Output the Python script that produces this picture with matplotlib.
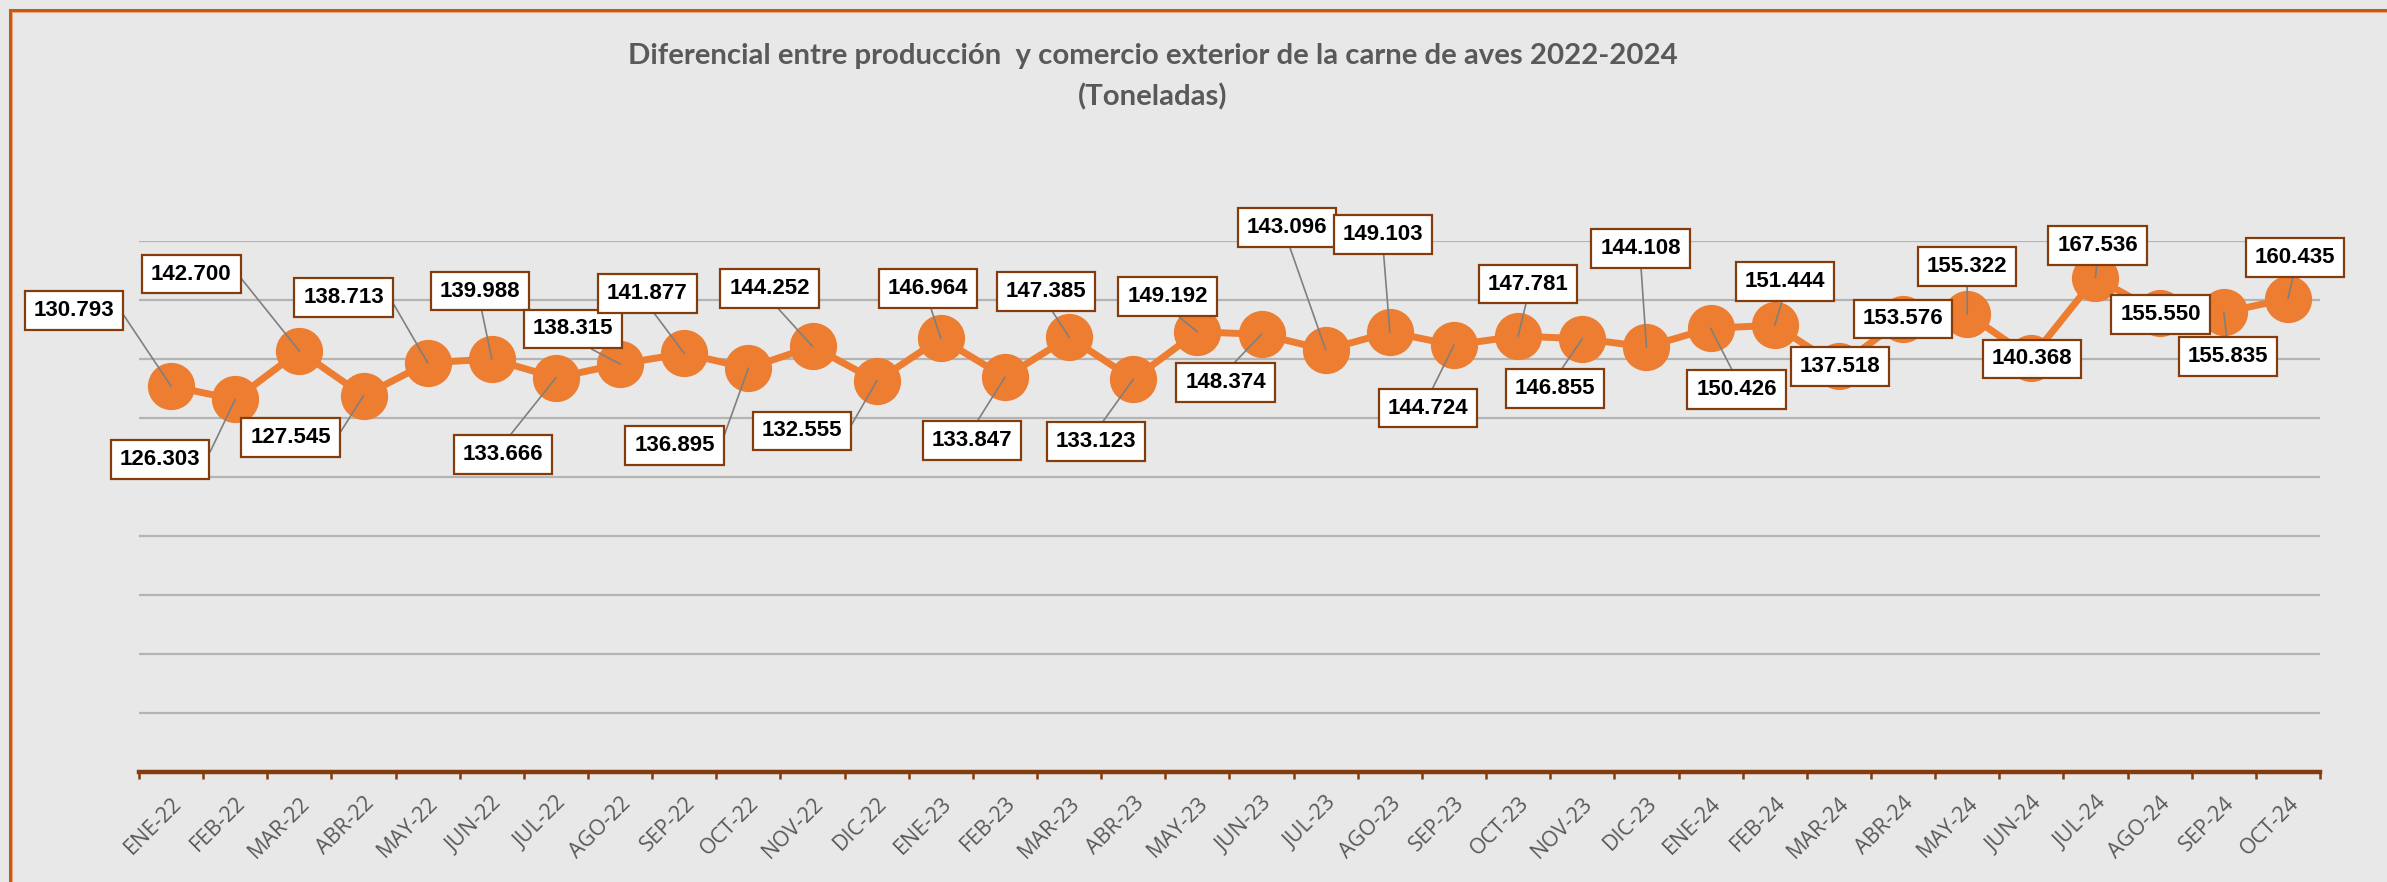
import matplotlib
matplotlib.use("Agg")
import numpy as np
import matplotlib.pyplot as plt
from matplotlib.lines import Line2D

# ----------------------------------------------------
# Data (toneladas, miles)
# ----------------------------------------------------
meses = ["ENE-22", "FEB-22", "MAR-22", "ABR-22", "MAY-22", "JUN-22", "JUL-22",
         "AGO-22", "SEP-22", "OCT-22", "NOV-22", "DIC-22",
         "ENE-23", "FEB-23", "MAR-23", "ABR-23", "MAY-23", "JUN-23", "JUL-23",
         "AGO-23", "SEP-23", "OCT-23", "NOV-23", "DIC-23",
         "ENE-24", "FEB-24", "MAR-24", "ABR-24", "MAY-24", "JUN-24", "JUL-24",
         "AGO-24", "SEP-24", "OCT-24"]

diferencial = [130.793, 126.303, 142.700, 127.545, 138.713, 139.988, 133.666,
               138.315, 141.877, 136.895, 144.252, 132.555,
               146.964, 133.847, 147.385, 133.123, 149.192, 148.374, 143.096,
               149.103, 144.724, 147.781, 146.855, 144.108,
               150.426, 151.444, 137.518, 153.576, 155.322, 140.368, 167.536,
               155.550, 155.835, 160.435]

titulo = "Diferencial entre producción  y comercio exterior de la carne de aves 2022-2024"
subtitulo = "(Toneladas)"

# label box offsets from each point, in pixels (dx, dy up)
label_offsets = [(-97, 76), (-75, -60), (-108, 77), (-73, -42), (-84, 65),
                 (-12, 68), (-53, -77), (-47, 35), (-37, 60), (-74, -77),
                 (-43, 58), (-75, -50), (-13, 50), (-33, -63), (-23, 46),
                 (-37, -62), (-30, 35), (-36, -48), (-39, 122), (-7, 98),
                 (-26, -63), (10, 52), (-27, -50), (-6, 98), (26, -61),
                 (10, 44), (1, 0), (0, 0), (0, 47), (1, -1), (2, 32),
                 (1, -1), (4, -44), (7, 41)]

BG = "#E8E8E8"
ORANGE = "#ED7D31"
BROWN = "#843C0C"
GRAY_TXT = "#595959"
TITLE_FONT = ["Lato", "DejaVu Sans"]

W, H = 2387, 882
fig = plt.figure(figsize=(W / 100, H / 100), dpi=100, facecolor=BG)
ax = fig.add_axes([139 / W, 1 - 772 / H, (2320 - 139) / W, (772 - 241) / H])
ax.set_facecolor(BG)

x = np.arange(len(meses))
ax.plot(x, diferencial, color=ORANGE, lw=5, marker="o", ms=33,
        mfc=ORANGE, mec=ORANGE, zorder=3, solid_capstyle="round")

ax.set_xlim(-0.5, len(meses) - 0.5)
ax.set_ylim(0, 180)
ax.set_yticks(np.arange(20, 181, 20))
ax.yaxis.grid(True, color="#B4B4B4", lw=1.6)
ax.set_axisbelow(True)
ax.tick_params(axis="y", left=False, labelleft=False)

for s in ["left", "right", "top"]:
    ax.spines[s].set_visible(False)
ax.spines["bottom"].set_color(BROWN)
ax.spines["bottom"].set_linewidth(3.2)

ax.set_xticks(x)
ax.set_xticks(np.arange(-0.5, len(meses)), minor=True)
ax.tick_params(axis="x", which="major", length=0, pad=15)
ax.tick_params(axis="x", which="minor", length=5, width=1.8, color=BROWN,
               direction="out")
ax.set_xticklabels(meses, rotation=45, ha="right", rotation_mode="anchor",
                   fontsize=15.5, color=GRAY_TXT, family=["Open Sans", "DejaVu Sans"])

# data labels with leader lines
for i, v in enumerate(diferencial):
    dx, dy = label_offsets[i]
    arrow = None
    if np.hypot(dx, dy) > 30:
        if abs(dx) > 60:
            arrow = dict(arrowstyle="-", color="#7F7F7F", lw=1.2, shrinkA=0, shrinkB=0,
                         relpos=(1, 0.5),
                         connectionstyle="arc,angleA=0,angleB=0,armA=6,armB=0,rad=0")
        else:
            arrow = dict(arrowstyle="-", color="#7F7F7F", lw=1.2, shrinkA=0, shrinkB=0,
                         relpos=(0.5, 0 if dy > 0 else 1))
    ax.annotate(f"{v:.3f}", xy=(i, v), xytext=(dx, dy), textcoords="offset pixels",
                ha="center", va="center", fontsize=16, fontweight="bold",
                family=["Liberation Sans", "DejaVu Sans"], color="black",
                bbox=dict(boxstyle="square,pad=0.4", fc="white", ec=BROWN, lw=1.6),
                arrowprops=arrow, zorder=5)

t1 = fig.text(1153 / W, 1 - 56 / H, titulo, ha="center", va="center", fontsize=21,
              fontweight="bold", color=GRAY_TXT, family=TITLE_FONT)
t2 = fig.text(1153 / W, 1 - 97 / H, subtitulo, ha="center", va="center", fontsize=21,
              fontweight="bold", color=GRAY_TXT, family=TITLE_FONT)

# shrink title to the reference width (~1050 px), keep both lines same size
r = fig.canvas.get_renderer()
w = t1.get_window_extent(r).width
fs = 21 * 1050 / w
t1.set_fontsize(fs)
t2.set_fontsize(fs)

# orange chart frame (top and left edges visible)
fig.add_artist(Line2D([9.5 / W, 1], [1 - 9.5 / H, 1 - 9.5 / H], color="#C55A11", lw=2.2))
fig.add_artist(Line2D([9.5 / W, 9.5 / W], [0, 1 - 9.5 / H], color="#C55A11", lw=2.2))
fig.add_artist(Line2D([11.5 / W, 1], [1 - 11.5 / H, 1 - 11.5 / H], color="#EBA77A", lw=0.7))
fig.add_artist(Line2D([11.5 / W, 11.5 / W], [0, 1 - 11.5 / H], color="#EBA77A", lw=0.7))

fig.savefig("out.png", dpi=100, facecolor=BG)
